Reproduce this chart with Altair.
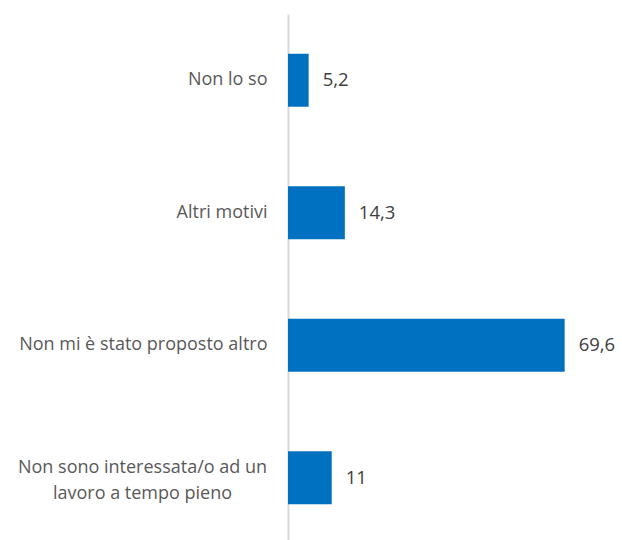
import altair as alt
import pandas as pd

categories = [
    "Non lo so",
    "Altri motivi",
    "Non mi è stato proposto altro",
    "Non sono interessata/o ad un lavoro a tempo pieno",
]
values = [5.2, 14.3, 69.6, 11]

df = pd.DataFrame({"cat": categories, "value": values})

LONG = categories[3]
FONT = "Open Sans"

base = alt.Chart(df).encode(
    y=alt.Y(
        "cat:N",
        sort=categories,
        scale=alt.Scale(paddingInner=0.6, paddingOuter=0.3),
        axis=alt.Axis(
            title=None,
            ticks=False,
            grid=False,
            domainColor="#D9D9D9",
            domainWidth=2,
            labelFont=FONT,
            labelFontSize=18,
            labelColor="#595959",
            labelLimit=400,
            labelLineHeight=26,
            labelAlign={"condition": {"test": f"datum.value == '{LONG}'", "value": "center"}, "value": "right"},
            labelPadding={"condition": {"test": f"datum.value == '{LONG}'", "value": 146}, "value": 21},
            labelOffset={"condition": {"test": f"datum.value == '{LONG}'", "value": -10}, "value": 0},
            labelExpr=f"datum.value == '{LONG}' ? ['Non sono interessata/o ad un', 'lavoro a tempo pieno'] : datum.value",
        ),
    ),
    x=alt.X("value:Q", scale=alt.Scale(domain=[0, 80], nice=False), axis=None),
)

bars = base.mark_bar(color="#0070C0")
text = base.mark_text(
    align="left", baseline="middle", dx=14, font=FONT, fontSize=18.5, color="#404040"
).transform_calculate(
    lab="replace(format(datum.value, '.1~f'), '.', ',')"
).encode(text="lab:N")

chart = (bars + text).properties(
    width=318,
    height=530,
    autosize=alt.AutoSizeParams(type="none"),
    padding={"left": 288, "top": 14, "right": 16, "bottom": 0},
).configure_view(stroke=None)

chart.save("out.html", embed_options={"renderer": "svg", "actions": False})
